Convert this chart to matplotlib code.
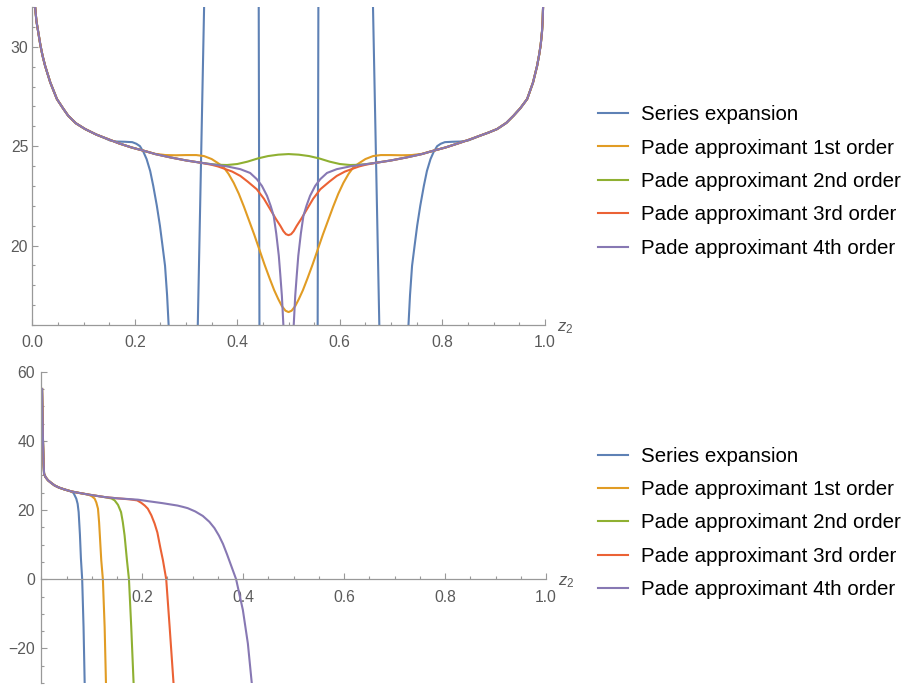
import matplotlib
matplotlib.use("Agg")
import matplotlib.pyplot as plt
from matplotlib.ticker import MultipleLocator, FixedLocator, FormatStrFormatter

plt.rcParams['font.family'] = ['Liberation Sans', 'DejaVu Sans']
plt.rcParams['mathtext.fontset'] = 'custom'
plt.rcParams['mathtext.it'] = 'Liberation Sans:italic'
plt.rcParams['mathtext.rm'] = 'Liberation Sans'

# colores por defecto de Mathematica
colores = ['#5E81B5', '#E19C24', '#8FB032', '#EB6235', '#8778B3']
etiquetas = ['Series expansion', 'Pade approximant 1st order', 'Pade approximant 2nd order',
             'Pade approximant 3rd order', 'Pade approximant 4th order']

# ---------------- panel superior ----------------
z_ser = [0.004, 0.0053, 0.008, 0.0117, 0.016, 0.020, 0.025, 0.035, 0.048, 0.060, 0.070, 0.085,
         0.103, 0.125, 0.140, 0.152, 0.165, 0.180, 0.195, 0.203, 0.210, 0.217, 0.223, 0.230,
         0.236, 0.243, 0.249, 0.254, 0.259, 0.263, 0.266, 0.275, 0.300, 0.3229, 0.3353, 0.345,
         0.430, 0.4418, 0.4432, 0.455, 0.545, 0.5568, 0.5582, 0.570, 0.655, 0.6647, 0.6771,
         0.700, 0.725, 0.734, 0.737, 0.741, 0.746, 0.751, 0.757, 0.764, 0.770, 0.777, 0.783,
         0.790, 0.797, 0.805, 0.820, 0.835, 0.850, 0.862, 0.873, 0.890, 0.907, 0.925, 0.939,
         0.952, 0.9656, 0.977, 0.985, 0.989, 0.992, 0.9945, 0.9958, 0.9967, 0.9975]
f_ser = [32.8, 32.06, 31.3, 30.72, 30.05, 29.55, 29.04, 28.21, 27.37, 26.9, 26.53, 26.15,
         25.86, 25.58, 25.42, 25.28, 25.23, 25.22, 25.2, 25.12, 25.0, 24.7, 24.35, 23.75,
         23.0, 22.0, 21.0, 20.0, 18.98, 17.5, 16.0, 12.0, 8.0, 16.0, 32.1, 40.0,
         40.0, 32.1, 16.0, 8.0, 8.0, 16.0, 32.1, 40.0, 40.0, 32.1, 16.0,
         8.0, 12.0, 16.0, 17.5, 18.98, 20.0, 21.0, 22.0, 23.0, 23.75, 24.35, 24.7,
         25.0, 25.12, 25.2, 25.22, 25.23, 25.28, 25.4, 25.52, 25.68, 25.86, 26.17, 26.53,
         26.9, 27.37, 28.2, 29.04, 29.6, 30.1, 30.75, 31.3, 32.06, 32.8]

z_p1 = [0.004, 0.0053, 0.008, 0.0117, 0.016, 0.020, 0.025, 0.035, 0.048, 0.060, 0.070, 0.085,
        0.103, 0.125, 0.148, 0.170, 0.194, 0.220, 0.240, 0.260, 0.280, 0.300, 0.320, 0.335,
        0.350, 0.362, 0.373, 0.383, 0.393, 0.403, 0.413, 0.423, 0.433, 0.443, 0.453, 0.463,
        0.472, 0.480, 0.487, 0.494, 0.500, 0.506, 0.513, 0.520, 0.528, 0.537, 0.547, 0.557,
        0.567, 0.577, 0.587, 0.597, 0.607, 0.617, 0.627, 0.638, 0.650, 0.665, 0.680, 0.700,
        0.720, 0.740, 0.760, 0.780, 0.806, 0.830, 0.852, 0.873, 0.890, 0.907, 0.925, 0.939,
        0.952, 0.9656, 0.977, 0.985, 0.989, 0.992, 0.9945, 0.9958, 0.9967, 0.9975]
f_p1 = [32.8, 32.06, 31.3, 30.72, 30.05, 29.55, 29.04, 28.21, 27.37, 26.9, 26.53, 26.15,
        25.86, 25.58, 25.35, 25.13, 24.93, 24.75, 24.61, 24.55, 24.54, 24.55, 24.55, 24.5,
        24.35, 24.15, 23.95, 23.6, 23.15, 22.6, 21.95, 21.25, 20.55, 19.8, 19.05, 18.35,
        17.75, 17.3, 16.95, 16.72, 16.65, 16.72, 16.95, 17.3, 17.75, 18.35, 19.05, 19.8,
        20.55, 21.25, 21.95, 22.6, 23.15, 23.6, 23.95, 24.15, 24.35, 24.5, 24.55, 24.55,
        24.54, 24.55, 24.61, 24.75, 24.93, 25.13, 25.32, 25.52, 25.68, 25.86, 26.17, 26.53,
        26.9, 27.37, 28.2, 29.04, 29.6, 30.1, 30.75, 31.3, 32.06, 32.8]

z_p2 = [0.004, 0.0053, 0.008, 0.0117, 0.016, 0.020, 0.025, 0.035, 0.048, 0.060, 0.070, 0.085,
        0.103, 0.125, 0.148, 0.170, 0.194, 0.220, 0.240, 0.270, 0.300, 0.330, 0.350, 0.365,
        0.380, 0.400, 0.420, 0.440, 0.460, 0.480, 0.500, 0.520, 0.540, 0.560, 0.580, 0.600,
        0.620, 0.635, 0.650, 0.670, 0.700, 0.730, 0.760, 0.780, 0.806, 0.830, 0.852, 0.873,
        0.890, 0.907, 0.925, 0.939, 0.952, 0.9656, 0.977, 0.985, 0.989, 0.992, 0.9945, 0.9958,
        0.9967, 0.9975]
f_p2 = [32.8, 32.06, 31.3, 30.72, 30.05, 29.55, 29.04, 28.21, 27.37, 26.9, 26.53, 26.15,
        25.86, 25.58, 25.35, 25.13, 24.93, 24.75, 24.6, 24.43, 24.28, 24.16, 24.09, 24.06,
        24.05, 24.1, 24.22, 24.38, 24.5, 24.57, 24.6, 24.57, 24.5, 24.38, 24.22, 24.1,
        24.05, 24.06, 24.09, 24.16, 24.28, 24.43, 24.6, 24.75, 24.93, 25.13, 25.32, 25.52,
        25.68, 25.86, 26.17, 26.53, 26.9, 27.37, 28.2, 29.04, 29.6, 30.1, 30.75, 31.3,
        32.06, 32.8]

z_p3 = [0.004, 0.0053, 0.008, 0.0117, 0.016, 0.020, 0.025, 0.035, 0.048, 0.060, 0.070, 0.085,
        0.103, 0.125, 0.148, 0.170, 0.194, 0.220, 0.240, 0.270, 0.300, 0.330, 0.350, 0.362,
        0.373, 0.390, 0.406, 0.420, 0.438, 0.452, 0.464, 0.475, 0.484, 0.490, 0.495, 0.500,
        0.505, 0.510, 0.516, 0.525, 0.536, 0.548, 0.562, 0.580, 0.594, 0.610, 0.627, 0.638,
        0.650, 0.670, 0.700, 0.730, 0.760, 0.780, 0.806, 0.830, 0.852, 0.873, 0.890, 0.907,
        0.925, 0.939, 0.952, 0.9656, 0.977, 0.985, 0.989, 0.992, 0.9945, 0.9958, 0.9967, 0.9975]
f_p3 = [32.8, 32.06, 31.3, 30.72, 30.05, 29.55, 29.04, 28.21, 27.37, 26.9, 26.53, 26.15,
        25.86, 25.58, 25.35, 25.13, 24.93, 24.75, 24.6, 24.43, 24.28, 24.16, 24.06, 23.98,
        23.88, 23.72, 23.5, 23.22, 22.83, 22.35, 21.83, 21.35, 20.99, 20.72, 20.57, 20.52,
        20.57, 20.72, 20.99, 21.35, 21.83, 22.35, 22.83, 23.22, 23.5, 23.72, 23.88, 23.98,
        24.06, 24.16, 24.28, 24.43, 24.6, 24.75, 24.93, 25.13, 25.32, 25.52, 25.68, 25.86,
        26.17, 26.53, 26.9, 27.37, 28.2, 29.04, 29.6, 30.1, 30.75, 31.3, 32.06, 32.8]

z_p4 = [0.004, 0.0053, 0.008, 0.0117, 0.016, 0.020, 0.025, 0.035, 0.048, 0.060, 0.070, 0.085,
        0.103, 0.125, 0.148, 0.170, 0.194, 0.220, 0.240, 0.270, 0.300, 0.330, 0.360, 0.380,
        0.406, 0.425, 0.438, 0.448, 0.458, 0.465, 0.471, 0.476, 0.481, 0.484, 0.487, 0.490,
        0.495, 0.500, 0.505, 0.510, 0.513, 0.516, 0.519, 0.524, 0.529, 0.535, 0.542, 0.552,
        0.562, 0.575, 0.594, 0.620, 0.640, 0.670, 0.700, 0.730, 0.760, 0.780, 0.806, 0.830,
        0.852, 0.873, 0.890, 0.907, 0.925, 0.939, 0.952, 0.9656, 0.977, 0.985, 0.989, 0.992,
        0.9945, 0.9958, 0.9967, 0.9975]
f_p4 = [32.8, 32.06, 31.3, 30.72, 30.05, 29.55, 29.04, 28.21, 27.37, 26.9, 26.53, 26.15,
        25.86, 25.58, 25.35, 25.13, 24.93, 24.75, 24.6, 24.43, 24.28, 24.16, 24.05, 23.98,
        23.84, 23.65, 23.34, 23.0, 22.5, 22.0, 21.49, 20.6, 19.48, 18.5, 17.46, 15.95,
        12.0, 10.5, 12.0, 15.95, 17.46, 18.5, 19.48, 20.6, 21.49, 22.0, 22.5, 23.0,
        23.34, 23.65, 23.84, 23.98, 24.05, 24.16, 24.28, 24.43, 24.6, 24.75, 24.93, 25.13,
        25.32, 25.52, 25.68, 25.86, 26.17, 26.53, 26.9, 27.37, 28.2, 29.04, 29.6, 30.1,
        30.75, 31.3, 32.06, 32.8]

# ---------------- panel inferior ----------------
zb_ser = [0.0015, 0.003, 0.0045, 0.0055, 0.0085, 0.0133, 0.0200, 0.0265, 0.035, 0.045, 0.059,
          0.064, 0.0693, 0.072, 0.074, 0.0765, 0.0785, 0.0810, 0.0837, 0.0860, 0.087]
fb_ser = [55.0, 42.0, 33.5, 30.5, 29.5, 28.6, 27.8, 27.1, 26.5, 26.0, 25.4,
          24.9, 23.3, 21.8, 19.4, 13.0, 6.0, 0.0, -13.8, -30.5, -36.0]

zb_p1 = [0.0015, 0.003, 0.0045, 0.0055, 0.0085, 0.0133, 0.0200, 0.0265, 0.035, 0.045, 0.059,
         0.075, 0.0925, 0.100, 0.1057, 0.109, 0.1123, 0.1145, 0.1160, 0.1188, 0.1220, 0.1255,
         0.1282, 0.129]
fb_p1 = [55.0, 42.0, 33.5, 30.5, 29.5, 28.6, 27.8, 27.1, 26.5, 26.0, 25.4,
         24.95, 24.5, 24.0, 23.3, 22.2, 20.4, 16.5, 12.7, 5.5, 0.0, -13.8,
         -30.5, -36.0]

zb_p2 = [0.0015, 0.003, 0.0045, 0.0055, 0.0085, 0.0133, 0.0200, 0.0265, 0.035, 0.045, 0.059,
         0.075, 0.0925, 0.110, 0.1255, 0.139, 0.1453, 0.152, 0.158, 0.1615, 0.165, 0.1697,
         0.1737, 0.1782, 0.1830, 0.184]
fb_p2 = [55.0, 42.0, 33.5, 30.5, 29.5, 28.6, 27.8, 27.1, 26.5, 26.0, 25.4,
         24.95, 24.5, 24.1, 23.75, 23.35, 22.8, 21.5, 19.4, 16.5, 12.7, 5.5,
         0.0, -13.8, -30.5, -36.0]

zb_p3 = [0.0015, 0.003, 0.0045, 0.0055, 0.0085, 0.0133, 0.0200, 0.0265, 0.035, 0.045, 0.059,
         0.075, 0.0925, 0.110, 0.1255, 0.150, 0.175, 0.190, 0.198, 0.205, 0.211, 0.218,
         0.2245, 0.2300, 0.2360, 0.2410, 0.2475, 0.2543, 0.2622, 0.263]
fb_p3 = [55.0, 42.0, 33.5, 30.5, 29.5, 28.6, 27.8, 27.1, 26.5, 26.0, 25.4,
         24.95, 24.5, 24.1, 23.75, 23.4, 23.1, 22.8, 22.1, 21.3, 20.4, 18.5,
         16.1, 13.5, 9.0, 5.5, 0.0, -13.8, -30.5, -36.0]

zb_p4 = [0.0015, 0.003, 0.0045, 0.0055, 0.0085, 0.0133, 0.0200, 0.0265, 0.035, 0.045, 0.059,
         0.075, 0.0925, 0.110, 0.1255, 0.150, 0.1915, 0.215, 0.240, 0.257, 0.270, 0.281,
         0.290, 0.305, 0.320, 0.333, 0.343, 0.352, 0.360, 0.368, 0.376, 0.386, 0.3994,
         0.4093, 0.417, 0.419]
fb_p4 = [55.0, 42.0, 33.5, 30.5, 29.5, 28.6, 27.8, 27.1, 26.5, 26.0, 25.4,
         24.95, 24.5, 24.1, 23.75, 23.4, 23.0, 22.5, 22.0, 21.6, 21.3, 20.9,
         20.55, 19.6, 18.3, 16.6, 14.8, 12.6, 10.2, 7.2, 4.0, 0.0, -8.9,
         -18.6, -30.0, -34.0]

series_sup = [(z_ser, f_ser), (z_p1, f_p1), (z_p2, f_p2), (z_p3, f_p3), (z_p4, f_p4)]
series_inf = [(zb_ser, fb_ser), (zb_p1, fb_p1), (zb_p2, fb_p2), (zb_p3, fb_p3), (zb_p4, fb_p4)]

gris_eje = '#999999'
gris_txt = '#5a5a5a'

W, H = 904, 689
fig = plt.figure(figsize=(W / 100, H / 100), dpi=100)
ax1 = fig.add_axes([32.3 / W, 1 - 325 / H, 512.5 / W, 318 / H])
ax2 = fig.add_axes([41.3 / W, 1 - 683 / H, 504.7 / W, 311.3 / H])


def estilo_ejes(ax):
    for lado in ['top', 'right']:
        ax.spines[lado].set_visible(False)
    for lado in ['left', 'bottom']:
        ax.spines[lado].set_color(gris_eje)
        ax.spines[lado].set_linewidth(0.9)
    ax.tick_params(which='both', direction='in', color=gris_eje, width=0.8,
                   labelcolor=gris_txt, labelsize=11.3)
    ax.tick_params(which='major', length=4.5)
    ax.tick_params(which='minor', length=2.5)
    ax.tick_params(axis='x', pad=7.5)
    ax.tick_params(axis='y', pad=3)
    ax.patch.set_visible(False)


def dibujar(ax, series):
    lineas = []
    for (z, f), c, lab in zip(series, colores, etiquetas):
        ln, = ax.plot(z, f, color=c, lw=1.5, label=lab, solid_joinstyle='round')
        lineas.append(ln)
    return lineas


# panel superior
lin1 = dibujar(ax1, series_sup)
ax1.set_xlim(0, 1)
ax1.set_ylim(16, 32.0)
estilo_ejes(ax1)
ax1.xaxis.set_major_locator(FixedLocator([0.0, 0.2, 0.4, 0.6, 0.8, 1.0]))
ax1.xaxis.set_major_formatter(FormatStrFormatter('%.1f'))
ax1.xaxis.set_minor_locator(MultipleLocator(0.05))
ax1.yaxis.set_major_locator(FixedLocator([20, 25, 30]))
ax1.yaxis.set_minor_locator(MultipleLocator(1))
ax1.annotate(r'$z_2$', xy=(1, 16), xycoords='data', xytext=(9, -2), textcoords='offset points',
             ha='left', va='center', color=gris_txt, fontsize=12, annotation_clip=False)

# panel inferior
lin2 = dibujar(ax2, series_inf)
ax2.set_xlim(0, 1)
ax2.set_ylim(-30, 60)
estilo_ejes(ax2)
ax2.spines['left'].set_position(('data', 0))
ax2.spines['bottom'].set_position(('data', 0))
ax2.xaxis.set_major_locator(FixedLocator([0.2, 0.4, 0.6, 0.8, 1.0]))
ax2.xaxis.set_major_formatter(FormatStrFormatter('%.1f'))
ax2.xaxis.set_minor_locator(MultipleLocator(0.05))
ax2.yaxis.set_major_locator(FixedLocator([-20, 0, 20, 40, 60]))
ax2.yaxis.set_minor_locator(MultipleLocator(5))
ax2.tick_params(axis='y', pad=4.5)
ax2.annotate(r'$z_2$', xy=(1, 0), xycoords='data', xytext=(9, -2), textcoords='offset points',
             ha='left', va='center', color=gris_txt, fontsize=12, annotation_clip=False)

# leyendas
for lineas, yc in [(lin1, 1 - 181.5 / H), (lin2, 1 - 523 / H)]:
    fig.legend(handles=lineas, loc='center left', bbox_to_anchor=(598 / W, yc),
               bbox_transform=fig.transFigure, frameon=False, fontsize=14.8,
               handlelength=1.45, handletextpad=0.65, labelspacing=0.7,
               borderpad=0, borderaxespad=0)

fig.savefig('out.png', dpi=100)
